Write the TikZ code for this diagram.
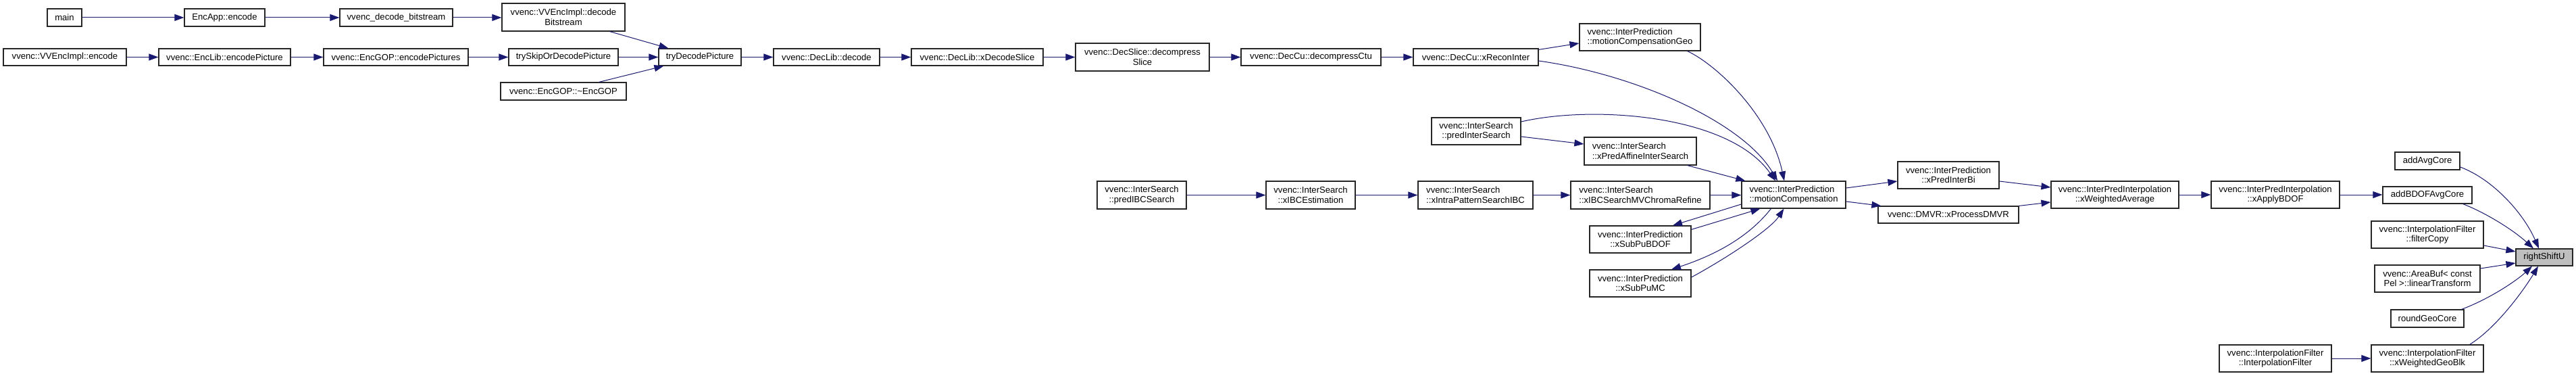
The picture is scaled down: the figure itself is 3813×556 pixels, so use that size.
\documentclass[tikz,border=0pt]{standalone}
\usepackage{fontspec}
\setmainfont{Liberation Sans}
\usetikzlibrary{arrows.meta,calc}
\definecolor{edgeblue}{HTML}{191970}
\definecolor{boxgray}{HTML}{BFBFBF}
\tikzset{
  box/.style={draw=black!85, line width=1.2pt, fill=white, inner sep=0pt, align=center,
    font=\fontsize{13.1pt}{14.4pt}\selectfont},
  lbox/.style={box, align=left},
  edge/.style={draw=edgeblue, line width=1pt, -{Triangle[length=14pt,width=10pt]}},
}
\begin{document}
\begin{tikzpicture}[x=1pt,y=-1pt]
\fill[white] (0,0) rectangle (3813,556);
\useasboundingbox (0,0) rectangle (3813,556);
% row 1
\node[box, minimum width=51pt, minimum height=26pt] (main) at (95.5,26) {main};
\node[box, minimum width=119pt, minimum height=26pt] (encApp) at (332.5,26) {EncApp::encode};
\node[box, minimum width=167pt, minimum height=26pt] (decBit) at (586.5,26) {vvenc\_decode\_bitstream};
\node[box, minimum width=182pt, minimum height=41pt] (implDec) at (834,25.5) {vvenc::VVEncImpl::decode\\Bitstream};
% row 2
\node[box, minimum width=182pt, minimum height=25pt] (implEnc) at (96,84.5) {vvenc::VVEncImpl::encode};
\node[box, minimum width=195pt, minimum height=25pt] (encPic) at (332.5,84.5) {vvenc::EncLib::encodePicture};
\node[box, minimum width=214pt, minimum height=25pt] (encPics) at (586,84.5) {vvenc::EncGOP::encodePictures};
\node[box, minimum width=162pt, minimum height=25pt] (trySkip) at (834,84.5) {trySkipOrDecodePicture};
\node[box, minimum width=186pt, minimum height=26pt] (dtor) at (834,135) {vvenc::EncGOP::\textasciitilde EncGOP};
\node[box, minimum width=122pt, minimum height=25pt] (tryDec) at (1036,84.5) {tryDecodePicture};
\node[box, minimum width=157pt, minimum height=25pt] (decLibDec) at (1223.5,84.5) {vvenc::DecLib::decode};
\node[box, minimum width=195pt, minimum height=25pt] (xDecSlice) at (1446.5,84.5) {vvenc::DecLib::xDecodeSlice};
\node[box, minimum width=198pt, minimum height=41pt] (decompSlice) at (1691,84.5) {vvenc::DecSlice::decompress\\Slice};
\node[box, minimum width=207pt, minimum height=25pt] (decompCtu) at (1940.5,84.5) {vvenc::DecCu::decompressCtu};
\node[box, minimum width=185pt, minimum height=25pt] (reconInter) at (2184.5,84.5) {vvenc::DecCu::xReconInter};
% middle block
\node[lbox, minimum width=179pt, minimum height=40pt] (mcGeo) at (2427.5,55) {vvenc::InterPrediction\\::motionCompensationGeo};
\node[box, minimum width=132pt, minimum height=40pt] (predInter) at (2185,194) {vvenc::InterSearch\\::predInterSearch};
\node[lbox, minimum width=166pt, minimum height=41pt] (xAffine) at (2428,223.5) {vvenc::InterSearch\\::xPredAffineInterSearch};
\node[box, minimum width=132pt, minimum height=41pt] (predIBC) at (1690,288.5) {vvenc::InterSearch\\::predIBCSearch};
\node[box, minimum width=132pt, minimum height=41pt] (xIBCEst) at (1940,288.5) {vvenc::InterSearch\\::xIBCEstimation};
\node[lbox, minimum width=170pt, minimum height=41pt] (xIntraPat) at (2184,288.5) {vvenc::InterSearch\\::xIntraPatternSearchIBC};
\node[lbox, minimum width=206pt, minimum height=41pt] (xIBCChroma) at (2428,288.5) {vvenc::InterSearch\\::xIBCSearchMVChromaRefine};
\node[lbox, minimum width=154pt, minimum height=40pt] (mc) at (2655,288) {vvenc::InterPrediction\\::motionCompensation};
\node[box, minimum width=150pt, minimum height=40pt] (subBDOF) at (2428,354) {vvenc::InterPrediction\\::xSubPuBDOF};
\node[box, minimum width=150pt, minimum height=40pt] (subMC) at (2428,419) {vvenc::InterPrediction\\::xSubPuMC};
\node[box, minimum width=150pt, minimum height=40pt] (predBi) at (2884,259) {vvenc::InterPrediction\\::xPredInterBi};
\node[box, minimum width=208pt, minimum height=25pt] (dmvr) at (2884,317.5) {vvenc::DMVR::xProcessDMVR};
\node[box, minimum width=189pt, minimum height=40pt] (wAvg) at (3130.5,288) {vvenc::InterPredInterpolation\\::xWeightedAverage};
\node[box, minimum width=190pt, minimum height=40pt] (applyBDOF) at (3368,288) {vvenc::InterPredInterpolation\\::xApplyBDOF};
% right column
\node[box, minimum width=96pt, minimum height=26pt] (addAvg) at (3593,238) {addAvgCore};
\node[box, minimum width=132pt, minimum height=25pt] (addBDOF) at (3593,288.5) {addBDOFAvgCore};
\node[box, minimum width=166pt, minimum height=40pt] (filterCopy) at (3593,347) {vvenc::InterpolationFilter\\::filterCopy};
\node[box, minimum width=156pt, minimum height=40pt] (linTrans) at (3593,412) {vvenc::AreaBuf\textless{} const\\Pel \textgreater::linearTransform};
\node[box, minimum width=108pt, minimum height=26pt] (roundGeo) at (3593,471) {roundGeoCore};
\node[box, minimum width=166pt, minimum height=40pt] (wGeoBlk) at (3593,530) {vvenc::InterpolationFilter\\::xWeightedGeoBlk};
\node[box, minimum width=166pt, minimum height=40pt] (ifCtor) at (3368,530) {vvenc::InterpolationFilter\\::InterpolationFilter};
\node[box, fill=boxgray, minimum width=84pt, minimum height=25pt] (rsu) at (3766,380.5) {rightShiftU};
% edges row 1
\draw[edge] (main.east) -- (encApp.west);
\draw[edge] (encApp.east) -- (decBit.west);
\draw[edge] (decBit.east) -- (decBit.east -| implDec.west);
\draw[edge] ($(implDec.south east)+(-23,0)$) -- ($(tryDec.north west)+(15,0)$);
% edges row 2
\draw[edge] (implEnc.east) -- (encPic.west);
\draw[edge] (encPic.east) -- (encPics.west);
\draw[edge] (encPics.east) -- (trySkip.west);
\draw[edge] (trySkip.east) -- (tryDec.west);
\draw[edge] ($(dtor.north east)+(-41,0)$) -- ($(tryDec.south west)+(8,0)$);
\draw[edge] (tryDec.east) -- (decLibDec.west);
\draw[edge] (decLibDec.east) -- (xDecSlice.west);
\draw[edge] (xDecSlice.east) -- (decompSlice.west);
\draw[edge] (decompSlice.east) -- (decompCtu.west);
\draw[edge] (decompCtu.east) -- (reconInter.west);
% into motionCompensation
\draw[edge] ($(reconInter.north east)+(0,2)$) -- ($(mcGeo.west)+(0,9)$);
\draw[edge] ($(reconInter.east)+(0,5.5)$) .. controls (2420,110) and (2580,180) .. ($(mc.north)+(-24,0)$);
\draw[edge] ($(mcGeo.south east)+(-20,0)$) .. controls (2540,95) and (2620,170) .. ($(mc.north)+(-14,0)$);
\draw[edge] ($(predInter.east)+(0,-14)$) .. controls (2360,155) and (2560,170) .. ($(mc.north)+(-27,0)$);
\draw[edge] ($(predInter.east)+(0,8)$) -- ($(xAffine.west)+(0,-10.5)$);
\draw[edge] ($(xAffine.south east)+(-14,0)$) -- ($(mc.north west)+(6,0)$);
\draw[edge] (predIBC.east) -- (xIBCEst.west);
\draw[edge] (xIBCEst.east) -- (xIntraPat.west);
\draw[edge] (xIntraPat.east) -- (xIBCChroma.west);
\draw[edge] (xIBCChroma.east) -- (xIBCChroma.east -| mc.west);
\draw[edge] ($(mc.west)+(0,14)$) -- ($(subBDOF.north)+(48,0)$);
\draw[edge] ($(subBDOF.north east)+(0,6)$) -- ($(mc.south west)+(28,0)$);
\draw[edge] ($(mc.south west)+(44,0)$) .. controls (2585,355) and (2530,380) .. ($(subMC.north)+(46,0)$);
\draw[edge] ($(subMC.east)+(0,-9)$) .. controls (2550,385) and (2620,340) .. ($(mc.south west)+(63,0)$);
% out of motionCompensation
\draw[edge] ($(mc.east)+(0,-10)$) -- ($(predBi.west)+(0,9)$);
\draw[edge] ($(mc.east)+(0,10)$) -- ($(dmvr.north west)+(5,0)$);
\draw[edge] ($(predBi.east)+(0,9)$) -- ($(wAvg.west)+(0,-11)$);
\draw[edge] (dmvr.north east) -- ($(wAvg.west)+(0,11)$);
\draw[edge] (wAvg.east) -- (applyBDOF.west);
\draw[edge] (applyBDOF.east) -- (applyBDOF.east -| addBDOF.west);
\draw[edge] (ifCtor.east) -- (wGeoBlk.west);
% into rightShiftU
\draw[edge] ($(addAvg.east)+(0,9)$) .. controls (3690,265) and (3735,315) .. ($(rsu.north)+(-8,0)$);
\draw[edge] ($(addBDOF.south east)+(-14,0)$) .. controls (3680,315) and (3720,340) .. ($(rsu.north)+(-16,0)$);
\draw[edge] ($(filterCopy.east)+(0,16)$) -- ($(rsu.west)+(0,-8.5)$);
\draw[edge] ($(linTrans.east)+(0,-15)$) -- ($(rsu.west)+(0,8.5)$);
\draw[edge] ($(roundGeo.north east)+(-4,0)$) .. controls (3685,442) and (3725,415) .. ($(rsu.south)+(-18,0)$);
\draw[edge] ($(wGeoBlk.north east)+(-21,0)$) .. controls (3695,485) and (3735,430) .. ($(rsu.south)+(-9,0)$);
\end{tikzpicture}
\end{document}
